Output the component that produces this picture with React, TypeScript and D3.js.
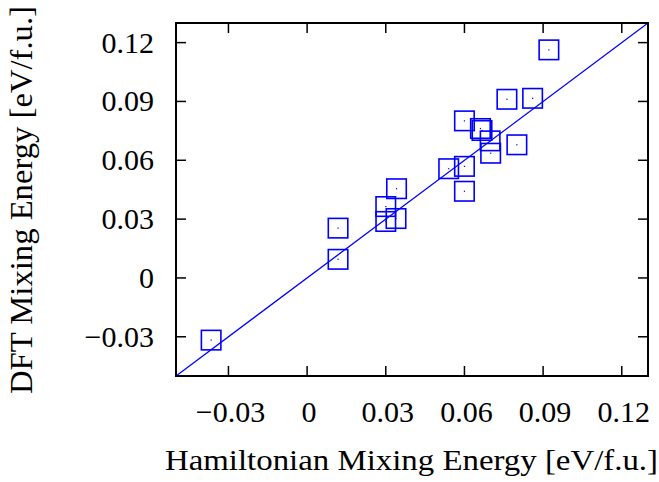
import React from "react";
import * as d3 from "d3";

const hamiltonian = [
  0.0922, 0.0762, 0.086, 0.060, 0.0661, 0.0667, 0.0698, 0.070, 0.080, 0.054,
  0.060, 0.060, 0.0341, 0.030, 0.030, 0.0339, 0.0118, 0.0118, -0.0366,
];
const dft = [
  0.1163, 0.0911, 0.0916, 0.0801, 0.0762, 0.0752, 0.0699, 0.0636, 0.0679, 0.0557,
  0.0569, 0.0442, 0.0455, 0.0364, 0.0288, 0.0303, 0.0254, 0.0095, -0.0317,
];
const xTicks = [-0.03, 0, 0.03, 0.06, 0.09, 0.12];
const yTicks = [-0.03, 0, 0.03, 0.06, 0.09, 0.12];
const domain: [number, number] = [-0.05, 0.13];

const W = 659;
const H = 482;
const L = 176;
const R = 648;
const T = 23;
const B = 376;

const fmt = (v: number) => {
  if (Math.abs(v) < 1e-9) return "0";
  const s = Math.abs(v).toFixed(2);
  return (v < 0 ? "\u2212" : "") + s;
};

export default function App() {
  const x = d3.scaleLinear().domain(domain).range([L, R]);
  const y = d3.scaleLinear().domain(domain).range([B, T]);
  const font = "'Liberation Serif', 'Times New Roman', serif";
  const blue = "#0000ff";
  const tickLen = 10;
  const sq = 19.5;
  const line = d3.line<number>().x((d) => x(d)).y((d) => y(d));
  return (
    <svg
      width={W}
      height={H}
      style={{ position: "absolute", left: 0, top: 0, background: "#fff" }}
      fontFamily={font}
    >
      <rect x={0} y={0} width={W} height={H} fill="#fff" />
      <defs>
        <clipPath id="plot">
          <rect x={L} y={T} width={R - L} height={B - T} />
        </clipPath>
      </defs>
      <g clipPath="url(#plot)">
        <path d={line(domain) || ""} stroke={blue} strokeWidth={1.3} fill="none" />
        {hamiltonian.map((hx, i) => (
          <g key={i}>
            <rect
              x={x(hx) - sq / 2}
              y={y(dft[i]) - sq / 2}
              width={sq}
              height={sq}
              fill="none"
              stroke={blue}
              strokeWidth={1.6}
            />
            <rect x={x(hx) - 0.6} y={y(dft[i]) - 0.6} width={1.2} height={1.2} fill={blue} />
          </g>
        ))}
      </g>
      {xTicks.map((t) => (
        <g key={"x" + t}>
          <line x1={x(t)} x2={x(t)} y1={B} y2={B - tickLen} stroke="#000" strokeWidth={1.5} />
          <line x1={x(t)} x2={x(t)} y1={T} y2={T + tickLen} stroke="#000" strokeWidth={1.5} />
          <text x={x(t) + 2} y={421.5} textAnchor="middle" fontSize={30} fill="#000">
            {fmt(t)}
          </text>
        </g>
      ))}
      {yTicks.map((t) => (
        <g key={"y" + t}>
          <line x1={L} x2={L + tickLen} y1={y(t)} y2={y(t)} stroke="#000" strokeWidth={1.5} />
          <line x1={R} x2={R - tickLen} y1={y(t)} y2={y(t)} stroke="#000" strokeWidth={1.5} />
          <text x={154} y={y(t) + 10} textAnchor="end" fontSize={30} fill="#000">
            {fmt(t)}
          </text>
        </g>
      ))}
      <rect x={L} y={T} width={R - L} height={B - T} fill="none" stroke="#000" strokeWidth={2} />
      <text
        x={165}
        y={470}
        fontSize={29}
        fill="#000"
        textLength={493}
        lengthAdjust="spacingAndGlyphs"
      >
        Hamiltonian Mixing Energy [eV/f.u.]
      </text>
      <text
        transform={`translate(32, 394) rotate(-90)`}
        fontSize={32}
        fill="#000"
        textLength={388}
        lengthAdjust="spacingAndGlyphs"
      >
        DFT Mixing Energy [eV/f.u.]
      </text>
    </svg>
  );
}
